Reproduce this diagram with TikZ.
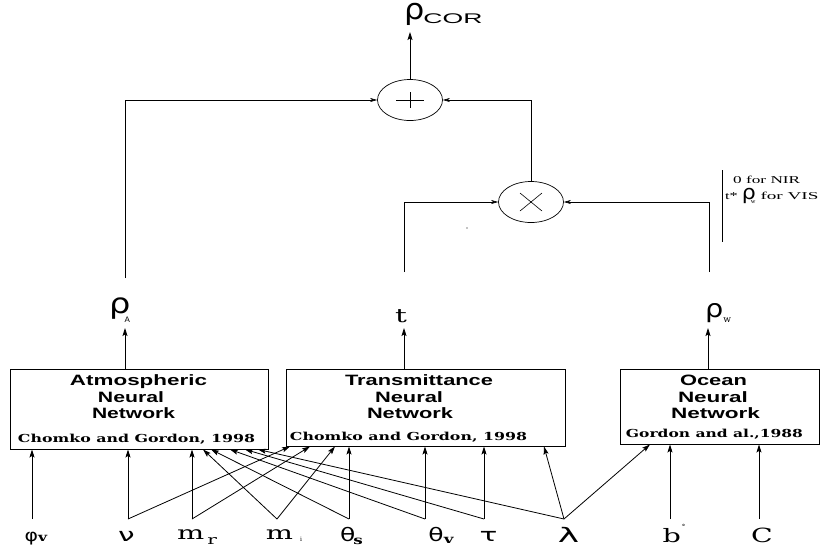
\documentclass[tikz,border=0pt]{standalone}
\usepackage{fontspec}
\setmainfont{Liberation Serif}
\newfontfamily\hv{Liberation Sans}
\newfontfamily\dvs{DejaVu Serif}
\newfontfamily\grk{DejaVu Sans}
\usetikzlibrary{arrows.meta,shapes.geometric}
\newcommand\Wd[2]{\resizebox{#1pt}{\height}{#2}}
\newcommand\Sx[1]{\scalebox{1.55}[1]{#1}}
\newcommand\Sk[2]{\scalebox{#1}[1]{#2}}
\newcommand\G[2]{{\grk\fontsize{#1}{#1}\selectfont #2}}
\begin{document}
\begin{tikzpicture}[x=1pt,y=-1pt,
  arr/.style={line width=0.8pt,-{Stealth[length=8pt,width=5pt,inset=1.5pt]}},
  arrc/.style={line width=0.6pt,-{Stealth[length=7pt,width=4pt,inset=2pt]}},
  nnbox/.style={draw,line width=0.9pt,inner sep=0},
  ttl/.style={font=\hv\bfseries\fontsize{15}{15}\selectfont,inner sep=0,anchor=base},
  cite/.style={font=\dvs\bfseries\fontsize{11}{11}\selectfont,inner sep=0,anchor=base},
  lab/.style={font=\dvs\fontsize{18.5}{18.5}\selectfont,inner sep=0,anchor=base},
  outl/.style={font=\dvs,inner sep=0,anchor=base west},
  ann/.style={font=\fontsize{10.5}{10}\selectfont,inner sep=0,anchor=base west},
  op/.style={draw,ellipse,line width=0.7pt,minimum width=65pt,minimum height=41pt,inner sep=0}]
\useasboundingbox (0,0) rectangle (823,550);
\fill[white] (0,0) rectangle (823,550);

% boxes
\node[nnbox,minimum width=258pt,minimum height=80pt] (A) at (139,409) {};
\node[nnbox,minimum width=279pt,minimum height=77pt] (T) at (425.5,407.5) {};
\node[nnbox,minimum width=199pt,minimum height=75pt] (O) at (719.5,406.5) {};

% box texts
\node[ttl] (a1) at (138.5,385) {\Wd{137}{Atmospheric}};
\node[ttl] (a2) at (131,402) {\Wd{66}{Neural}};
\node[ttl] (a3) at (133.5,418) {\Wd{83}{Network}};
\node[cite] (a4) at (136.5,442) {\Wd{237}{Chomko and Gordon, 1998}};
\node[ttl] (t1) at (419,385) {\Wd{148}{Transmittance}};
\node[ttl] (t2) at (409,402) {\Wd{68}{Neural}};
\node[ttl] (t3) at (410,418) {\Wd{86}{Network}};
\node[cite] (t4) at (408.5,440) {\Wd{237}{Chomko and Gordon, 1998}};
\node[ttl] (o1) at (713.5,385) {\Wd{67}{Ocean}};
\node[ttl] (o2) at (713,402) {\Wd{70}{Neural}};
\node[ttl] (o3) at (715.5,418) {\Wd{89}{Network}};
\node[cite] (o4) at (714.5,437) {\Wd{177}{Gordon and al.,1988}};

% outputs
\node[outl] (rA) at (109,313)
  {\Sk{1.2}{\G{28}{ρ}}\hspace{-6pt}\raisebox{-9pt}{\hv\fontsize{8}{8}\selectfont A}};
\node[outl] (rt) at (395,322) {\Sx{\fontsize{19}{19}\selectfont t}};
\node[outl] (rW) at (705,317)
  {\Sk{1.15}{\G{25}{ρ}}\hspace{0pt}\raisebox{-5pt}{\fontsize{9}{9}\selectfont w}};
\node[outl] (rC) at (404,19)
  {\Sk{1.1}{\G{29}{ρ}}\hspace{-1pt}\raisebox{-4pt}{\hv\fontsize{14}{14}\selectfont\Wd{59}{COR}}};

\coordinate (oa) at (125,328);
\coordinate (ot) at (404,328);
\coordinate (oo) at (708,328);
\draw[arr] (oa |- A.north) -- (oa);
\draw[arr] (ot |- T.north) -- (ot);
\draw[arr] (oo |- O.north) -- (oo);

% operators
\node[op] (plus) at (410,100) {};
\node[op] (times) at (531,202) {};
\draw[line width=0.6pt] (plus.center) +(-14,0) -- +(14,0);
\draw[line width=0.6pt] (plus.center) +(0,-8) -- +(0,8);
\draw[line width=0.6pt] (times.center) +(-11,-9) -- +(11,9);
\draw[line width=0.6pt] (times.center) +(-11,9) -- +(11,-9);

\coordinate (la) at (125,278);
\coordinate (lt) at (404,272);
\coordinate (lo) at (709,272);
\coordinate (tipc) at (412,32);
\draw[arrc] (la) |- (plus.west);
\draw[arrc] (lt) |- (times.west);
\draw[arrc] (lo) |- (times.east);
\draw[arrc] (times.north) |- (plus.east);
\draw[arr] (plus.north) -- (plus.north |- tipc);
\fill (467,228) circle (0.6pt);

% annotation
\coordinate (bar1) at (722,170);
\coordinate (bar2) at (722,242);
\draw[line width=0.9pt] (bar1) -- (bar2);
\node[ann] (n1) at (733,183) {\Wd{67}{0 for NIR}};
\node[ann] (n2) at (725,199) {\Sx{t*}\hspace{4pt}\Sk{1.1}{\G{20}{ρ}}\hspace{-5pt}\raisebox{-4pt}{\fontsize{6.5}{6.5}\selectfont w}\hspace{5pt}\Wd{58}{for VIS}};

% input labels
\node[lab] (lphi) at (36,541) {\Sk{1.2}{\G{17}{φ}}\Sk{1.3}{\fontsize{12}{12}\selectfont\bfseries v}};
\node[lab] (lnu) at (126.5,541) {\Sk{1.6}{\G{18.5}{ν}}};
\node[lab] (lmr) at (197,539) {\Sx{m}\hspace{3pt}\raisebox{-5pt}{\Sx{\fontsize{13}{13}\selectfont r}}};
\node[lab] (lmi) at (284,539) {\Sx{m}\hspace{7pt}\raisebox{-2pt}{\fontsize{6}{6}\selectfont i}};
\node[lab] (lths) at (351.5,541) {\Sk{1.35}{\G{18.5}{θ}}\hspace{-2pt}\raisebox{-3pt}{\Sk{1.4}{\fontsize{12}{12}\selectfont\bfseries s}}};
\node[lab] (lthv) at (441,541) {\Sk{1.35}{\G{18.5}{θ}}\raisebox{-2pt}{\Sk{1.4}{\fontsize{12}{12}\selectfont\bfseries v}}};
\node[lab] (ltau) at (488.5,541) {\Sk{1.6}{\G{18.5}{τ}}};
\node[lab] (llam) at (568.5,542) {\Sk{1.8}{\G{20}{λ}}};
\node[lab] (lb) at (674,542) {\Sx{b}\hspace{1pt}\raisebox{13pt}{\fontsize{7}{7}\selectfont °}};
\node[lab] (lC) at (762,542) {\Sk{1.45}{\fontsize{19.5}{19.5}\selectfont C}};

% junctions
\coordinate (jphi) at (32,519);
\coordinate (jnu) at (128,519);
\coordinate (jmr) at (192,519);
\coordinate (jmi) at (277,519);
\coordinate (jths) at (349,519);
\coordinate (jthv) at (425,519);
\coordinate (jtau) at (484,519);
\coordinate (jlam) at (564,519);
\coordinate (jb) at (670,519);
\coordinate (jC) at (759,519);

% input connectors
\draw[arr] (jphi) -- (jphi |- A.south);
\draw[arr] (jnu) -- (jnu |- A.south);
\draw[arr] (jnu) -- (290,0 |- T.south);
\draw[arr] (jmr) -- (jmr |- A.south);
\draw[arr] (jmr) -- (310,0 |- T.south);
\draw[arr] (jmi) -- (203,0 |- A.south);
\draw[arr] (jmi) -- (335,0 |- T.south);
\draw[arr] (jths) -- (jths |- T.south);
\draw[arr] (jths) -- (211,0 |- A.south);
\draw[arr] (jthv) -- (jthv |- T.south);
\draw[arr] (jthv) -- (230,0 |- A.south);
\draw[arr] (jtau) -- (jtau |- T.south);
\draw[arr] (jtau) -- (245,0 |- A.south);
\draw[arr] (jlam) -- (544,0 |- T.south);
\draw[arr] (jlam) -- (258,0 |- A.south);
\draw[arr] (jlam) -- (650,0 |- O.south);
\draw[arr] (jb) -- (jb |- O.south);
\draw[arr] (jC) -- (jC |- O.south);
\end{tikzpicture}
\end{document}
